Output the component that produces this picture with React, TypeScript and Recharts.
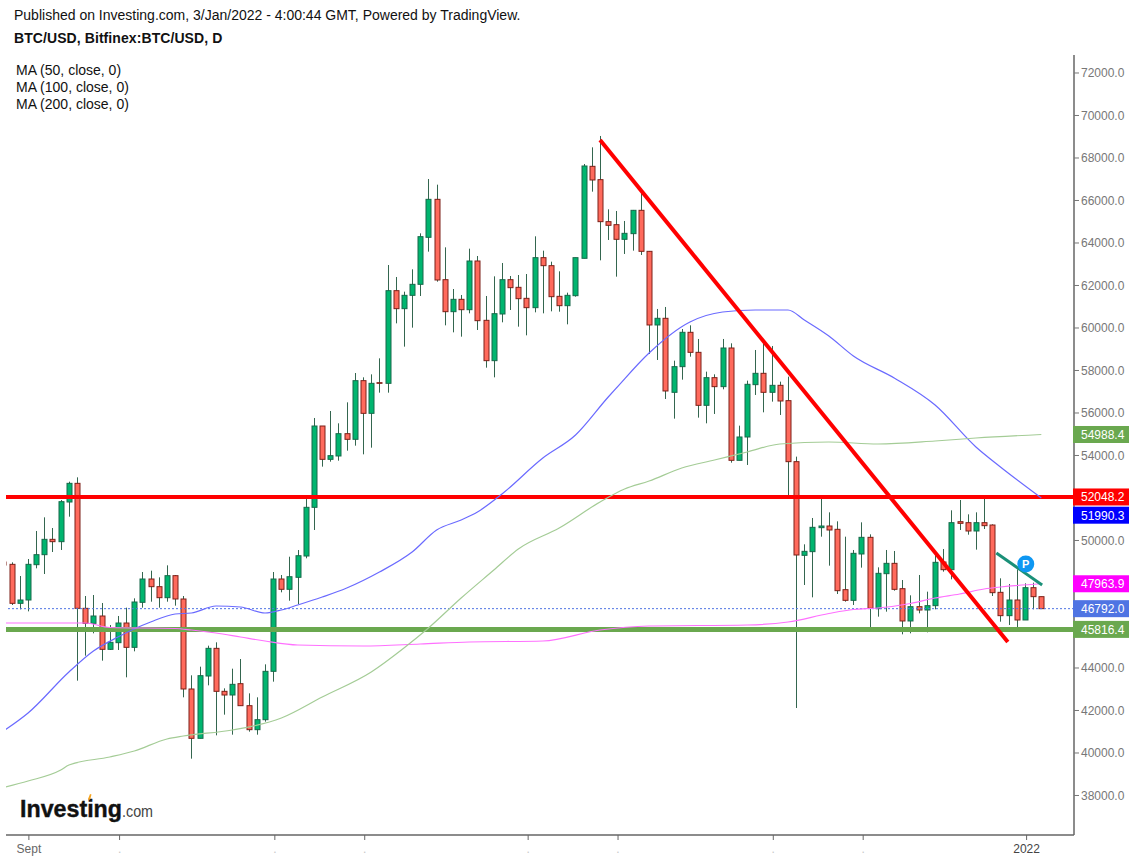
import React from 'react';
import { ComposedChart, Bar, Line, XAxis, YAxis, ReferenceLine, ReferenceDot } from 'recharts';

const firstIndex = -1;
const opens = [48987,48878,47043,47200,48862,49333,50055,49945,51811,52690,46808,46102,46447,44878,45192,46117,44972,47090,48188,47827,47309,48345,47247,43012,40690,43623,44925,42902,42729,43262,42227,41098,41568,43843,48188,47703,48267,49270,51561,55388,53819,53977,55027,54761,57522,55984,57427,57396,61757,60910,61537,62055,64267,66055,62274,60768,61349,60862,63153,60361,58463,60659,62274,61914,61396,60957,63310,62933,61490,61051,61521,63279,67608,66981,65004,64863,64173,64440,65538,63608,60142,60456,56973,58181,59797,58855,56361,57663,57240,59059,53773,54871,57334,57867,56973,57302,56581,53710,49302,49475,50604,50682,50526,47686,47184,49365,50149,46792,48439,48925,47733,46212,46886,46729,46933,48988,48627,50886,50839,50447,50839,50729,47561,46463,47200,46259,47780,47357];
const highs = [48987,48972,48329,49129,50447,51090,50588,51905,52768,52972,47388,47435,47059,46023,46447,46839,47278,48517,48580,48266,48831,48376,47388,43655,44062,45051,45208,43043,43968,44423,42807,42620,44172,48517,48376,49237,49552,51952,55765,55388,56094,55514,56502,57882,57678,57819,58572,62964,62400,61710,62761,64455,67011,66745,63796,61835,61553,63733,63388,61506,62431,63059,62447,62494,62541,64314,63639,63121,62667,61663,63310,67718,68502,69036,65585,65506,65036,65554,66416,63624,60895,60989,58463,59953,60126,59483,57946,57820,59483,59279,55405,57522,58965,59279,59153,57475,57710,53946,49820,51059,52016,51325,50902,50180,49553,50855,50290,48737,49553,49506,48141,47420,48377,47592,49365,49600,51420,51906,51231,51325,52110,50761,48220,47953,48643,47984,48016,47357];
const lows = [48845,46964,46760,46666,48690,48423,49458,49553,51121,43404,44580,45631,44345,44847,44847,43561,44784,46839,47121,46839,47121,46933,42620,39733,40690,43184,40831,41804,40862,42227,41004,40862,41474,43357,47561,47166,47011,49161,50494,53475,53710,53757,54227,54463,54055,54368,56957,56957,60219,59122,60016,61506,63592,62180,60125,59796,59592,60690,59906,58133,57678,60267,60847,60063,59655,60737,60690,60784,60768,60172,61474,63279,66416,63185,64142,62416,63483,63640,63436,58777,58495,56659,55734,57569,58651,55781,55514,55954,57114,53663,53773,53554,56848,56032,56534,55907,52100,42117,47906,47325,50180,48816,47482,47122,46965,48722,45835,46416,46651,47639,45584,45631,46573,45678,46761,48533,48173,50494,50274,49569,50541,47388,46180,46024,45788,46259,46761,46792];
const closes = [48845,47043,47200,48878,49333,50055,49945,51827,52690,46808,46102,46447,44878,45208,46117,44972,47106,48188,47827,47309,48345,47247,43012,40690,43639,44925,42902,42729,43231,42227,41098,41568,43843,48188,47703,48296,49284,51561,55388,53819,53992,55027,54761,57522,55984,57396,57396,61757,60910,61537,62055,64298,66055,62259,60768,61349,60862,63153,60345,58463,60674,62274,61898,61380,60957,63310,62933,61474,61051,61537,63310,67624,66965,65004,64832,64173,64455,65538,63608,60142,60456,57036,58181,59797,58855,56361,57663,57240,59059,53773,54871,57350,57867,56973,57302,56565,53710,49318,49490,50620,50682,50494,47639,47184,49396,50149,46808,48455,48925,47702,46212,46886,46729,46933,48973,48627,50839,50808,50447,50839,50698,47545,46463,47200,46259,47780,47357,46792];

const ma50Index = [-1,2,7,10,13,17,20,22,25,28,31,33,35,38,41,45,49,52,55,57,60,65,69,73,74,78,83,87,91,95,97,100,103,108,113,118,121,126];
const ma50Values = [41035,41882,43811,44799,45458,46164,46540,46588,46917,46870,46588,46729,46964,47340,47764,48517,49458,50494,50964,51341,52188,53882,54964,56753,57176,58823,60282,60753,60847,60847,60376,59623,58682,57647,56376,54400,53458,52000];
const ma100Index = [-1,9,12,20,22,25,28,31,35,43,50,56,65,72,78,90,95,100,103,106,110,113,116,119,121,126];
const ma100Values = [46117,46117,45905,45858,45788,45646,45458,45270,45082,45035,45130,45224,45270,45788,45976,46023,46164,46564,46752,46823,47035,47294,47482,47717,47811,47964];
const ma200Index = [-1,2,6,7,12,15,19,21,27,33,38,44,48,51,55,59,62,67,72,75,78,82,86,90,94,100,106,113,118,126];
const ma200Values = [38376,38682,39199,39434,39811,40094,40658,40799,41082,41646,42635,43811,44940,45882,47293,48611,49600,50588,51811,52423,52800,53411,53788,54164,54541,54635,54541,54682,54823,54988];

// 46000, 48000 and 52000 sit behind the coloured price tags in the reference
const priceTicks = [38000,40000,42000,44000,50000,54000,56000,58000,60000,62000,64000,66000,68000,70000,72000];
const dateTicks = [2.1,13.2,32.2,43.2,63.2,74.2,93.2,104.2,124.2];
const dateLabels: Record<string, string> = { '2.1': 'Sept', '124.2': '2022' };

const resistance = 52048.2;
const support = 45816.4;
const lastPrice = 46792;
const downTrend = [{ x: 72, y: 68847 }, { x: 121.9, y: 45223 }];
const shortTrend = [{ x: 120.5, y: 49411 }, { x: 126.1, y: 47905 }];
const pivot = { x: 124.1, y: 48894 };

const priceTags = [
  { value: 54988.4, text: '54988.4', fill: '#6aa84f', shift: 0 },
  { value: 52048.2, text: '52048.2', fill: '#ff0000', shift: 0 },
  { value: 51990.3, text: '51990.3', fill: '#0000ff', shift: 17 },
  { value: 47963.9, text: '47963.9', fill: '#ff00ff', shift: 0 },
  { value: 46792.0, text: '46792.0', fill: '#4f74e3', shift: 0 },
  { value: 45816.4, text: '45816.4', fill: '#6aa84f', shift: 0 },
];

const headerLine = 'Published on Investing.com, 3/Jan/2022 - 4:00:44 GMT, Powered by TradingView.';
const symbolLine = 'BTC/USD, Bitfinex:BTC/USD, D';
const studies = ['MA (50, close, 0)', 'MA (100, close, 0)', 'MA (200, close, 0)'];

const rows = opens.map((open, k) => {
  const i = firstIndex + k;
  const pick = (idx: number[], vals: number[]) => {
    const at = idx.indexOf(i);
    return at >= 0 ? vals[at] : null;
  };
  return {
    i, open, high: highs[k], low: lows[k], close: closes[k],
    ma50: pick(ma50Index, ma50Values),
    ma100: pick(ma100Index, ma100Values),
    ma200: pick(ma200Index, ma200Values),
  };
});

const FONT = '"Liberation Sans", Arial, sans-serif';

function Candle(props: any) {
  const { x, y, width, height, payload } = props;
  const { open, high, low, close } = payload;
  const cx = Math.round(x + width / 2) + 0.5;
  const perUnit = height / (high - low || 1);
  const top = y + (high - Math.max(open, close)) * perUnit;
  const bottom = y + (high - Math.min(open, close)) * perUnit;
  const up = close >= open;
  return (
    <g>
      <line x1={cx} x2={cx} y1={y} y2={y + height} stroke="#34664f" strokeWidth={1} />
      <rect
        x={cx - 2.5}
        y={top}
        width={5}
        height={Math.max(bottom - top, 0.6)}
        fill={up ? '#00b56f' : '#ff6a5c'}
        stroke={up ? '#17694a' : '#7d2018'}
        strokeWidth={1}
      />
    </g>
  );
}

function PriceTag(props: any) {
  const { cx, cy, text, fill, shift } = props;
  const c = cy + shift;
  return (
    <g>
      <rect x={cx - 1} y={c - 8.5} width={56} height={17} fill={fill} />
      <text x={cx + 7} y={c + 4.5} fill="#ffffff" fontSize={12} fontFamily={FONT}>{text}</text>
    </g>
  );
}

function PivotMark(props: any) {
  const { cx, cy } = props;
  return (
    <g>
      <circle cx={cx} cy={cy} r={8.5} fill="#0e97f2" />
      <text x={cx} y={cy + 4} textAnchor="middle" fill="#ffffff" fontSize={11} fontWeight="bold" fontFamily={FONT}>P</text>
    </g>
  );
}

function DateTick(props: any) {
  const { x, y, payload } = props;
  const label = dateLabels[String(payload.value)];
  return (
    <text
      x={x}
      y={y + 11}
      textAnchor="middle"
      fontSize={12}
      fontFamily={FONT}
      fill={label === '2022' ? '#444' : label ? '#666' : '#c8c8c8'}
    >
      {label ?? '.'}
    </text>
  );
}

const textRow = (top: number, left: number): React.CSSProperties => ({
  position: 'absolute', top, left, fontFamily: FONT, fontSize: 14, lineHeight: '16px', color: '#111', whiteSpace: 'nowrap',
});

export default function App() {
  return (
    <div style={{ position: 'absolute', left: 0, top: 0, width: 1132, height: 859, background: '#fff', overflow: 'hidden' }}>
      <ComposedChart
        width={1132}
        height={859}
        data={rows}
        margin={{ top: 55, right: 0, bottom: 0, left: 6 }}
        style={{ fontFamily: FONT }}
      >
        <XAxis
          dataKey="i"
          type="number"
          domain={[-0.7, 130]}
          allowDataOverflow
          ticks={dateTicks}
          interval={0}
          height={24}
          tickSize={5}
          tick={DateTick}
          tickLine={{ stroke: '#666' }}
          axisLine={{ stroke: '#666', strokeWidth: 1.5 }}
        />
        <YAxis
          orientation="right"
          width={58}
          domain={[36141, 72847]}
          allowDataOverflow
          ticks={priceTicks}
          interval={0}
          tickSize={5}
          tickMargin={2}
          tickFormatter={(v: number) => v.toFixed(1)}
          tick={{ fill: '#777', fontSize: 12, textAnchor: 'start' }}
          tickLine={{ stroke: '#777' }}
          axisLine={{ stroke: '#666', strokeWidth: 1.5 }}
        />
        <Bar dataKey={(r: any) => [r.low, r.high]} barSize={6} shape={Candle} isAnimationActive={false} />
        <ReferenceLine y={lastPrice} stroke="#4f74e3" strokeWidth={1} strokeDasharray="2 2" />
        <ReferenceLine y={resistance} stroke="#ff0000" strokeWidth={4} />
        <ReferenceLine y={support} stroke="#6aa84f" strokeWidth={5} />
        <Line type="monotone" dataKey="ma50" stroke="#6a6aff" strokeWidth={1.2} dot={false} connectNulls isAnimationActive={false} />
        <Line type="monotone" dataKey="ma100" stroke="#ff70ff" strokeWidth={1.2} dot={false} connectNulls isAnimationActive={false} />
        <Line type="monotone" dataKey="ma200" stroke="#a4cc96" strokeWidth={1.2} dot={false} connectNulls isAnimationActive={false} />
        <ReferenceLine segment={downTrend} stroke="#ff0000" strokeWidth={4} ifOverflow="visible" />
        <ReferenceLine segment={shortTrend} stroke="#1a9078" strokeWidth={3} ifOverflow="visible" />
        <ReferenceDot x={pivot.x} y={pivot.y} ifOverflow="visible" shape={PivotMark} />
        {priceTags.map((t) => (
          <ReferenceDot
            key={t.text}
            x={130}
            y={t.value}
            ifOverflow="visible"
            shape={(p: any) => <PriceTag {...p} text={t.text} fill={t.fill} shift={t.shift} />}
          />
        ))}
      </ComposedChart>

      <div style={textRow(7, 14)}>{headerLine}</div>
      <div style={{ ...textRow(30, 14), fontWeight: 'bold', letterSpacing: '0.08px' }}>{symbolLine}</div>
      {studies.map((s, k) => (
        <div key={s} style={textRow(62 + k * 17, 16)}>{s}</div>
      ))}

      <svg style={{ position: 'absolute', left: 0, top: 780 }} width={170} height={50}>
        <text x={20} y={37} fontFamily={FONT} fontWeight="bold" fontSize={24} fill="#111" stroke="#111" strokeWidth={0.4} textLength={102} lengthAdjust="spacingAndGlyphs">Investing</text>
        <text x={122} y={37} fontFamily={FONT} fontSize={16} fill="#444" textLength={31} lengthAdjust="spacingAndGlyphs">.com</text>
        <path d="M88 19 L90 14 L91.5 14.5 L90 20 Z" fill="#f5a623" />
      </svg>
    </div>
  );
}
